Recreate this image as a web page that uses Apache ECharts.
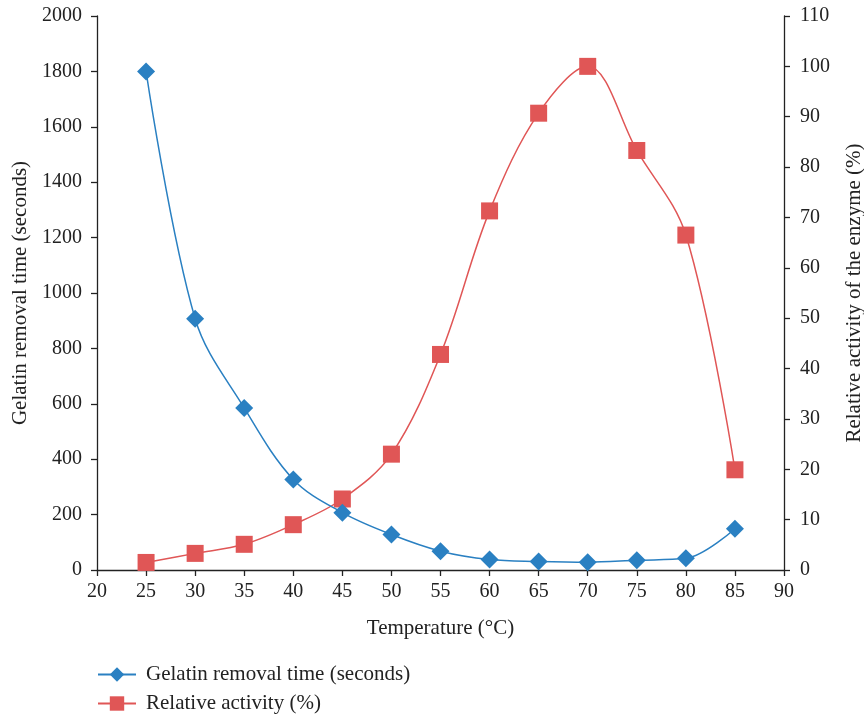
<!DOCTYPE html>
<html>
<head>
<meta charset="utf-8">
<script src="https://cdn.jsdelivr.net/npm/echarts@6/dist/echarts.min.js"></script>
<style>
  html, body { margin: 0; padding: 0; background: #fff; }
  #chart { width: 864px; height: 718px; }
</style>
</head>
<body>
<div id="chart"></div>
<script>
// temperatures (°C)
const temperatures = [25, 30, 35, 40, 45, 50, 55, 60, 65, 70, 75, 80, 85]
// gelatin removal time, seconds (left axis)
const removalTime = [1800, 907, 585, 327, 207, 128, 68, 38, 31, 28, 35, 42, 149]
// relative activity, % (right axis)
const relativeActivity = [1.5, 3.3, 5.1, 9.0, 14.1, 23.0, 42.8, 71.3, 90.7, 100, 83.3, 66.5, 19.9]

const FONT = '"Liberation Serif", "DejaVu Serif", serif'
const BLUE = '#2a80c2'
const RED = '#e05656'
const AXIS = '#222'

const chart = echarts.init(document.getElementById('chart'))

const axisCommon = {
  axisLine: { show: true, lineStyle: { color: AXIS, width: 1.3 } },
  axisTick: { show: true, length: 6, lineStyle: { color: AXIS, width: 1.3 } },
  axisLabel: { color: '#222', fontFamily: FONT, fontSize: 20, formatter: (v) => String(v) },
  splitLine: { show: false },
  nameTextStyle: { color: '#222', fontFamily: FONT, fontSize: 21 },
}

chart.setOption({
  animation: false,
  grid: { left: 97, right: 80, top: 16, bottom: 148, containLabel: false, outerBoundsMode: 'none' },
  legend: {
    orient: 'vertical',
    left: 97,
    top: 664,
    padding: 0,
    height: 54,
    itemGap: 8,
    itemWidth: 38,
    itemHeight: 18,
    textStyle: { color: '#222', fontFamily: FONT, fontSize: 21, padding: [0, 0, 0, 5] },
    data: ['Gelatin removal time (seconds)', 'Relative activity (%)'],
  },
  xAxis: {
    ...axisCommon,
    type: 'value',
    min: 20,
    max: 90,
    interval: 5,
    name: 'Temperature (°C)',
    nameLocation: 'middle',
    nameGap: 48,
    axisLabel: { ...axisCommon.axisLabel, margin: 12 },
  },
  yAxis: [
    {
      ...axisCommon,
      type: 'value',
      min: 0,
      max: 2000,
      interval: 200,
      name: 'Gelatin removal time (seconds)',
      nameLocation: 'middle',
      nameGap: 63,
      axisLabel: { ...axisCommon.axisLabel, margin: 15 },
    },
    {
      ...axisCommon,
      type: 'value',
      position: 'right',
      min: 0,
      max: 110,
      interval: 10,
      name: 'Relative activity of the enzyme (%)',
      nameLocation: 'middle',
      nameGap: 60,
      nameRotate: 90,
      axisLabel: { ...axisCommon.axisLabel, margin: 16 },
    },
  ],
  series: [
    {
      name: 'Gelatin removal time (seconds)',
      type: 'line',
      yAxisIndex: 0,
      smooth: 0.35,
      symbol: 'diamond',
      symbolSize: 18,
      itemStyle: { color: BLUE },
      lineStyle: { color: BLUE, width: 1.5 },
      data: temperatures.map((t, i) => [t, removalTime[i]]),
      z: 3,
    },
    {
      name: 'Relative activity (%)',
      type: 'line',
      yAxisIndex: 1,
      smooth: 0.35,
      symbol: 'rect',
      symbolSize: 17,
      itemStyle: { color: RED },
      lineStyle: { color: RED, width: 1.5 },
      data: temperatures.map((t, i) => [t, relativeActivity[i]]),
      z: 2,
    },
  ],
})
</script>
</body>
</html>
